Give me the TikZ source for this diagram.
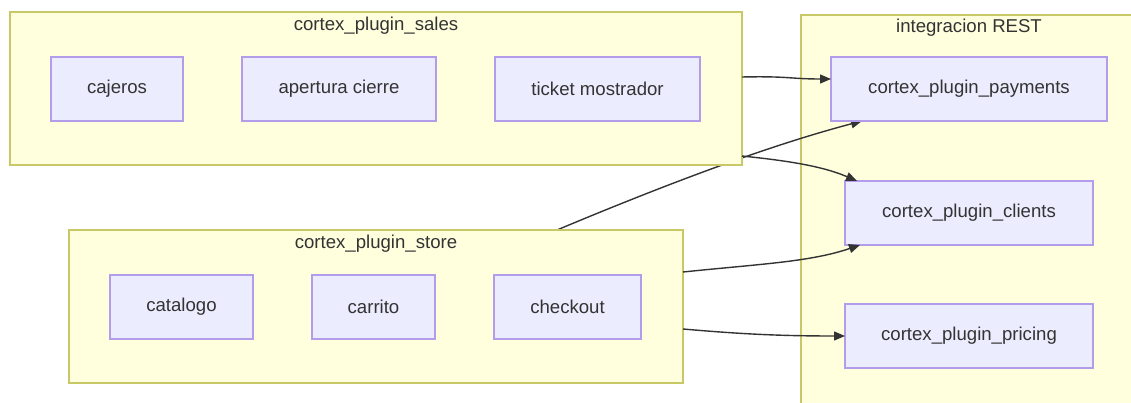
\documentclass[tikz,border=0pt]{standalone}
\usepackage{fontspec}
\setmainfont{Liberation Sans}
\usetikzlibrary{arrows.meta}
\pgfdeclarelayer{bg}
\pgfsetlayers{bg,main}
\definecolor{clusterfill}{HTML}{FFFFDE}
\definecolor{clusterline}{HTML}{C8C866}
\definecolor{boxfill}{HTML}{ECECFF}
\definecolor{boxline}{HTML}{B39DEB}
\definecolor{ink}{HTML}{333333}
\begin{document}
\begin{tikzpicture}[x=1pt,y=-1pt,
  every node/.style={font=\fontsize{18.6}{22}\selectfont, text=ink, inner sep=0pt, outer sep=0pt},
  cluster/.style={draw=clusterline, fill=clusterfill, line width=1.2pt, rectangle},
  box/.style={draw=boxline, fill=boxfill, line width=1.2pt, rectangle, minimum height=64pt},
  lbl/.style={},
  link/.style={draw=ink, line width=1.4pt, -{Triangle[length=11pt,width=9pt]}}]
\useasboundingbox (0,0) rectangle (1131,403);
\clip (0,0) rectangle (1131,403);

% subgraph frames (the REST frame sits on the lower layer with the
% store -> payments link, so that link passes under the sales frame only)
\node[cluster, anchor=north west, minimum width=732pt, minimum height=153pt] (sales) at (10,12) {};
\node[cluster, anchor=north west, minimum width=614pt, minimum height=153pt] (store) at (69,230) {};
\begin{pgfonlayer}{bg}
\node[cluster, anchor=north west, minimum width=336pt, minimum height=420pt] (rest) at (801,15) {};
\end{pgfonlayer}

% subgraph titles
\node[lbl] (salesT) at (376,26) {cortex\_plugin\_sales};
\node[lbl] (storeT) at (376,244) {cortex\_plugin\_store};
\node[lbl] (restT) at (969,28) {integracion REST};

% modules
\node[box, minimum width=132pt] (cajeros) at (117,89) {cajeros};
\node[box, minimum width=194pt] (apertura) at (339,89) {apertura cierre};
\node[box, minimum width=205pt] (ticket) at (597.5,89) {ticket mostrador};
\node[box, minimum width=143pt] (catalogo) at (181.5,307) {catalogo};
\node[box, minimum width=123pt] (carrito) at (373.5,307) {carrito};
\node[box, minimum width=147pt] (checkout) at (567.5,307) {checkout};
\node[box, minimum width=276pt] (payments) at (969,89) {cortex\_plugin\_payments};
\node[box, minimum width=248pt] (clients) at (969,213) {cortex\_plugin\_clients};
\node[box, minimum width=248pt] (pricing) at (969,336) {cortex\_plugin\_pricing};

% store -> payments runs underneath the sales frame
\begin{pgfonlayer}{bg}
\path[link] ([xshift=488pt]store.north west)
  .. controls +(143,-60) and +(-72,19) .. ([xshift=31pt]payments.south west);
\end{pgfonlayer}

\path[link] ([yshift=11.5pt]sales.east)
  .. controls +(47,-1) and +(-41,0) .. ([yshift=10pt]payments.west);
\path[link] ([yshift=-67.5pt]sales.east)
  .. controls +(38,4) and +(-37,-16) .. ([xshift=12pt]clients.north west);
\path[link] ([yshift=34.5pt]store.east)
  .. controls +(77,-8) and +(-50,17) .. ([xshift=15pt]clients.south west);
\path[link] ([yshift=-22.5pt]store.east)
  .. controls +(57,5) and +(-65,0) .. (pricing.west);
\end{tikzpicture}
\end{document}
